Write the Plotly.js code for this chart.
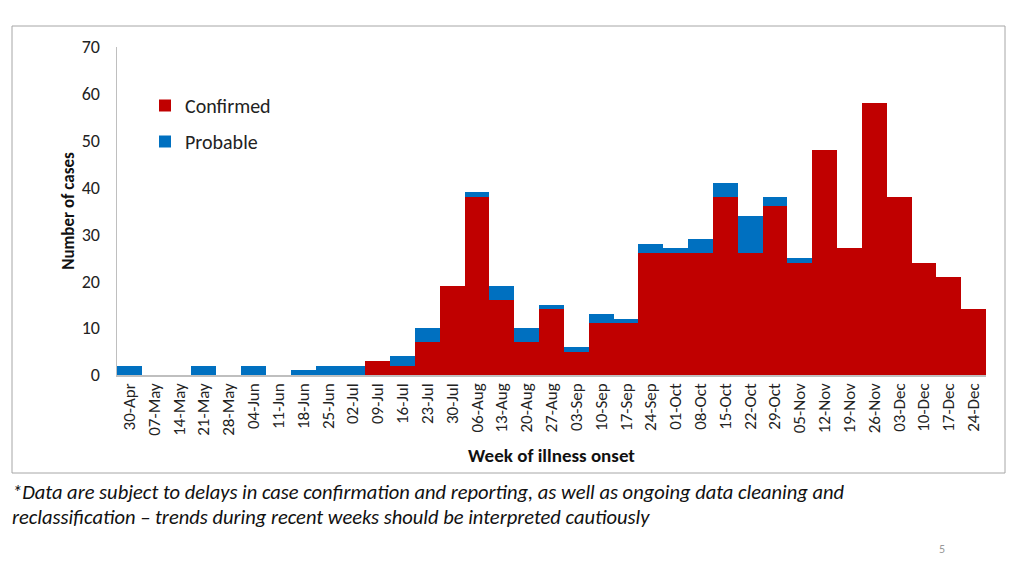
<!DOCTYPE html>
<html>
<head>
<meta charset="utf-8">
<script src="https://cdn.plot.ly/plotly-3.0.1.min.js"></script>
<style>
  html, body { margin: 0; padding: 0; background: #ffffff; }
  #chart { width: 1024px; height: 576px; }
</style>
</head>
<body>
<div id="chart"></div>
<script>
const weeks = ["30-Apr","07-May","14-May","21-May","28-May","04-Jun","11-Jun","18-Jun","25-Jun","02-Jul",
  "09-Jul","16-Jul","23-Jul","30-Jul","06-Aug","13-Aug","20-Aug","27-Aug","03-Sep","10-Sep",
  "17-Sep","24-Sep","01-Oct","08-Oct","15-Oct","22-Oct","29-Oct","05-Nov","12-Nov","19-Nov",
  "26-Nov","03-Dec","10-Dec","17-Dec","24-Dec"];
const confirmed = [0,0,0,0,0,0,0,0,0,0,
  3,2,7,19,38,16,7,14,5,11,
  11,26,26,26,38,26,36,24,48,27,
  58,38,24,21,14];
const probable = [2,0,0,2,0,2,0,1,2,2,
  0,2,3,0,1,3,3,1,1,2,
  1,2,1,3,3,8,2,1,0,0,
  0,0,0,0,0];
const yTicks = [0,10,20,30,40,50,60,70];

const FONT = "Carlito, 'Liberation Sans Narrow', 'Roboto Condensed', Roboto, sans-serif";

const traces = [
  {type: "bar", name: "Confirmed", x: weeks, y: confirmed, legendgroup: "c",
   marker: {color: "#C00000", line: {width: 0}}},
  {type: "bar", name: "Probable", x: weeks, y: probable, legendgroup: "p",
   marker: {color: "#0070C0", line: {width: 0}}}
];

// plot area: x 117..986 px, y 47..375 px
const L = 117, R = 986, T = 47, B = 375;
const px = v => (v - L) / (R - L);
const py = v => (B - v) / (B - T);

const layout = {
  width: 1024, height: 576,
  margin: {l: L, r: 1024 - R, t: T, b: 576 - B},
  paper_bgcolor: "#ffffff", plot_bgcolor: "#ffffff",
  barmode: "stack", bargap: 0,
  font: {family: FONT, color: "#222222"},
  showlegend: true,
  legend: {x: px(145), y: py(86), xanchor: "left", yanchor: "top",
    traceorder: "grouped", font: {size: 20, family: FONT, color: "#222"},
    bgcolor: "rgba(0,0,0,0)", itemwidth: 30, tracegroupgap: 7},
  xaxis: {
    type: "category", tickangle: -90, tickfont: {size: 17, family: FONT, color: "#222"},
    showline: true, linecolor: "#bfbfbf", linewidth: 1.5, ticks: "", showgrid: false,
    automargin: false,
    title: {text: "<b>Week of illness onset</b>", font: {size: 19, family: FONT, color: "#111"}, standoff: 14}
  },
  yaxis: {
    range: [0, 70], tickvals: yTicks, ticktext: yTicks.map(String),
    tickfont: {size: 18, family: FONT, color: "#222"},
    showline: true, linecolor: "#bfbfbf", linewidth: 1.5, ticks: "", showgrid: false,
    zeroline: false, automargin: false, ticklabelstandoff: 12,
    title: {text: "<b>Number of cases</b>", font: {size: 17, family: FONT, color: "#111"}, standoff: 2}
  },
  shapes: [
    {type: "rect", xref: "paper", yref: "paper",
     x0: px(12), x1: px(1005), y0: py(473), y1: py(26),
     line: {color: "#a6a6a6", width: 1}, fillcolor: "rgba(0,0,0,0)", layer: "below"}
  ],
  annotations: [
    {xref: "paper", yref: "paper", x: px(10), y: py(492), xanchor: "left", yanchor: "middle",
     showarrow: false, align: "left",
     text: "<i>*Data are subject to delays in case confirmation and reporting, as well as ongoing data cleaning and</i>",
     font: {size: 20.5, family: FONT, color: "#111"}},
    {xref: "paper", yref: "paper", x: px(10), y: py(517), xanchor: "left", yanchor: "middle",
     showarrow: false, align: "left",
     text: "<i>reclassification – trends during recent weeks should be interpreted cautiously</i>",
     font: {size: 20.5, family: FONT, color: "#111"}},
    {xref: "paper", yref: "paper", x: px(942), y: py(549), xanchor: "center", yanchor: "middle",
     showarrow: false, text: "5", font: {size: 12, family: FONT, color: "#999"}}
  ]
};

Plotly.newPlot("chart", traces, layout, {displayModeBar: false, staticPlot: true});
</script>
</body>
</html>
